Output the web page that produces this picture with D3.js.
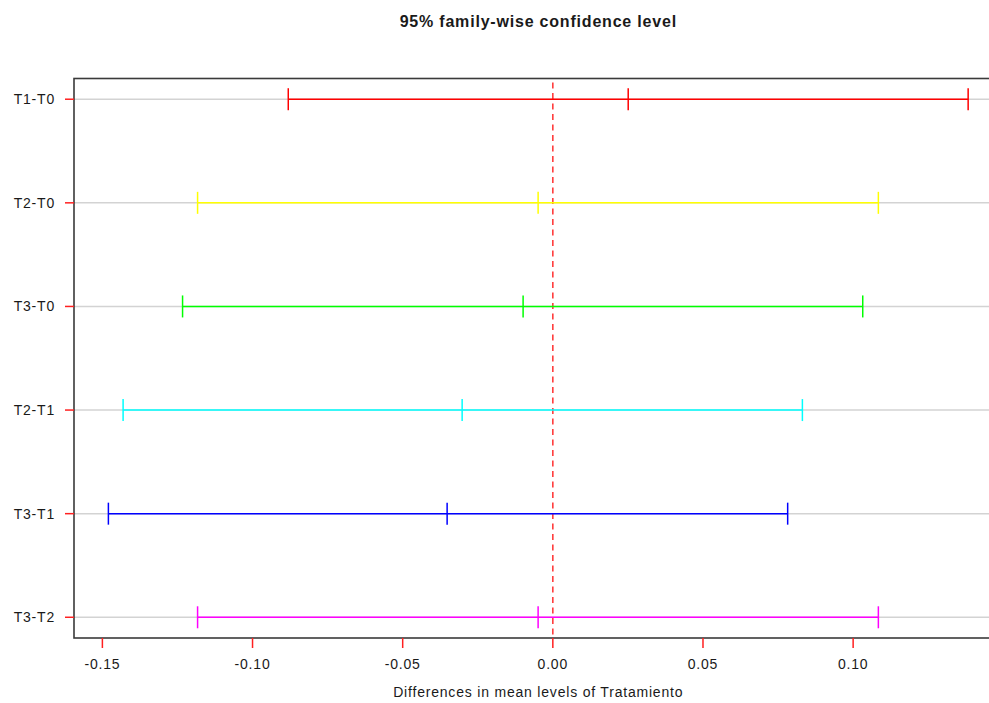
<!DOCTYPE html>
<html>
<head>
<meta charset="utf-8">
<script src="https://cdn.jsdelivr.net/npm/d3@7"></script>
<style>
  body { margin: 0; background: #fff; }
  text { font-family: "Liberation Sans", Arial, sans-serif; fill: #1a1a1a; letter-spacing: 0.8px; }
</style>
</head>
<body>
<script>
// Tukey HSD comparisons
var comparisons = ['T1-T0', 'T2-T0', 'T3-T0', 'T2-T1', 'T3-T1', 'T3-T2'];
var diffs = [0.0251, -0.0049, -0.0099, -0.0302, -0.0352, -0.0049];
var lowers = [-0.0881, -0.1183, -0.1233, -0.1431, -0.1480, -0.1183];
var uppers = [0.1383, 0.1084, 0.1032, 0.0831, 0.0782, 0.1084];
var colors = ['#ff0000', '#ffff00', '#00ff00', '#00ffff', '#0000ff', '#ff00ff'];
var xTicks = [-0.15, -0.10, -0.05, 0.00, 0.05, 0.10];

var width = 989, height = 703;
var margin = { top: 78.5, left: 74, bottom: 65 };

// R style range: data range extended by 4% each side
var lo = d3.min(lowers), hi = d3.max(uppers);
var ext = (hi - lo) * 0.04;
var plotRight = margin.left + 3003 * (hi - lo + 2 * ext);

var x = d3.scaleLinear()
  .domain([lo - ext, hi + ext])
  .range([margin.left, plotRight]);

var n = comparisons.length;
var y = d3.scaleLinear()
  .domain([1 - (n - 1) * 0.04, n + (n - 1) * 0.04])
  .range([height - margin.bottom, margin.top]);

var svg = d3.select('body').append('svg')
  .attr('width', width)
  .attr('height', height);

var rows = comparisons.map(function (c, i) {
  return { name: c, pos: n - i, diff: diffs[i], lwr: lowers[i], upr: uppers[i], color: colors[i] };
});

// grid lines
svg.selectAll('.grid')
  .data(rows)
  .enter()
  .append('line')
    .attr('x1', margin.left)
    .attr('x2', plotRight)
    .attr('y1', function (d) { return y(d.pos); })
    .attr('y2', function (d) { return y(d.pos); })
    .attr('stroke', '#d3d3d3')
    .attr('stroke-width', 1.5);

// zero reference line
svg.append('line')
  .attr('x1', x(0)).attr('x2', x(0))
  .attr('y1', y.range()[1] + 4).attr('y2', y.range()[0])
  .attr('stroke', '#ff3030')
  .attr('stroke-width', 1.5)
  .attr('stroke-dasharray', '6,4.5');

// intervals
var g = svg.selectAll('.ci')
  .data(rows)
  .enter()
  .append('g')
  .attr('stroke', function (d) { return d.color; })
  .attr('stroke-width', 1.5);

g.append('line')
  .attr('x1', function (d) { return x(d.lwr); })
  .attr('x2', function (d) { return x(d.upr); })
  .attr('y1', function (d) { return y(d.pos); })
  .attr('y2', function (d) { return y(d.pos); });

['lwr', 'diff', 'upr'].forEach(function (k) {
  g.append('line')
    .attr('x1', function (d) { return x(d[k]); })
    .attr('x2', function (d) { return x(d[k]); })
    .attr('y1', function (d) { return y(d.pos) - 11; })
    .attr('y2', function (d) { return y(d.pos) + 11; });
});

// box (right side falls outside the window)
var yTop = y.range()[1], yBot = y.range()[0];
svg.append('rect')
  .attr('x', margin.left)
  .attr('y', yTop)
  .attr('width', plotRight - margin.left)
  .attr('height', yBot - yTop)
  .attr('fill', 'none')
  .attr('stroke', '#3a3a3a')
  .attr('stroke-width', 1.6);

// y axis ticks and labels
svg.selectAll('.ytick')
  .data(rows)
  .enter()
  .append('line')
    .attr('x1', margin.left - 9)
    .attr('x2', margin.left)
    .attr('y1', function (d) { return y(d.pos); })
    .attr('y2', function (d) { return y(d.pos); })
    .attr('stroke', '#ff2020')
    .attr('stroke-width', 1.5);

svg.selectAll('.ylab')
  .data(rows)
  .enter()
  .append('text')
    .attr('x', 55)
    .attr('y', function (d) { return y(d.pos); })
    .attr('dy', '0.35em')
    .attr('text-anchor', 'end')
    .style('font-size', '14px')
    .text(function (d) { return d.name; });

// x axis ticks and labels
svg.selectAll('.xtick')
  .data(xTicks)
  .enter()
  .append('line')
    .attr('x1', function (d) { return x(d); })
    .attr('x2', function (d) { return x(d); })
    .attr('y1', yBot)
    .attr('y2', yBot + 10)
    .attr('stroke', '#ff2020')
    .attr('stroke-width', 1.5);

svg.selectAll('.xlab')
  .data(xTicks)
  .enter()
  .append('text')
    .attr('x', function (d) { return x(d); })
    .attr('y', yBot + 31)
    .attr('text-anchor', 'middle')
    .style('font-size', '14px')
    .text(function (d) { return d.toFixed(2); });

var cx = (margin.left + plotRight) / 2;

svg.append('text')
  .attr('x', cx)
  .attr('y', 697)
  .attr('text-anchor', 'middle')
  .style('font-size', '14px')
  .text('Differences in mean levels of Tratamiento');

svg.append('text')
  .attr('x', cx)
  .attr('y', 27)
  .attr('text-anchor', 'middle')
  .style('font-size', '16px')
  .style('font-weight', 'bold')
  .text('95% family-wise confidence level');
</script>
</body>
</html>
